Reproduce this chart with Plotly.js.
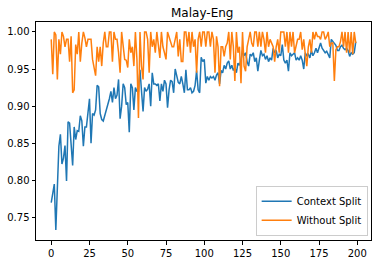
<!DOCTYPE html>
<html><head><meta charset="utf-8">
<script src="https://cdn.plot.ly/plotly-3.0.1.min.js"></script>
<style>html,body{margin:0;padding:0;background:#fff}#chart{width:378px;height:264px}</style>
</head><body><div id="chart"></div>
<script>
const title = "Malay-Eng";
const seriesNames = ["Context Split", "Without Split"];
const contextSplit = [
0.770,0.780,0.795,0.733,0.800,0.846,0.862,0.822,0.830,0.847,
0.799,0.879,0.877,0.850,0.820,0.872,0.855,0.867,0.866,0.887,
0.880,0.846,0.872,0.872,0.890,0.910,0.850,0.890,0.888,0.895,
0.928,0.926,0.890,0.882,0.880,0.887,0.893,0.900,0.910,0.920,
0.905,0.925,0.910,0.915,0.936,0.883,0.900,0.930,0.925,0.902,
0.905,0.865,0.930,0.925,0.895,0.925,0.920,0.920,0.949,0.920,
0.893,0.925,0.920,0.923,0.930,0.900,0.945,0.930,0.930,0.928,
0.930,0.907,0.930,0.920,0.935,0.930,0.898,0.922,0.935,0.933,
0.918,0.950,0.940,0.932,0.930,0.940,0.930,0.918,0.949,0.922,
0.922,0.925,0.918,0.920,0.928,0.948,0.922,0.918,0.966,0.960,
0.963,0.931,0.940,0.935,0.940,0.938,0.940,0.935,0.942,0.945,
0.930,0.948,0.945,0.955,0.950,0.958,0.961,0.950,0.955,0.948,
0.952,0.945,0.958,0.955,0.962,0.975,0.968,0.972,0.960,0.954,
0.970,0.968,0.972,0.960,0.965,0.947,0.962,0.975,0.968,0.970,
0.963,0.968,0.960,0.965,0.962,0.978,0.972,0.975,0.965,0.970,
0.968,0.983,0.962,0.958,0.962,0.947,0.972,0.968,0.970,0.972,
0.962,0.965,0.962,0.968,0.962,0.950,0.972,0.968,0.970,0.965,
0.975,0.968,0.972,0.978,0.972,0.980,0.985,0.978,0.975,0.972,
0.974,0.970,0.965,0.990,0.987,0.985,0.982,0.975,0.975,0.980,
0.982,0.978,0.976,0.978,0.975,0.967,0.972,0.970,0.972,0.987
];
const withoutSplit = [
0.990,0.943,1.000,0.996,0.936,0.990,0.970,1.000,0.994,0.980,
0.990,0.990,0.960,0.994,0.918,0.922,0.983,0.970,1.000,0.960,
0.985,1.000,0.992,0.980,0.990,0.990,0.990,0.963,0.954,0.941,
0.980,0.960,0.980,0.954,0.985,1.000,0.980,0.980,1.000,1.000,
0.960,1.000,0.990,0.990,0.972,0.945,1.000,0.985,0.963,0.962,
0.952,0.990,0.972,0.980,0.954,1.000,0.963,0.884,1.000,0.954,
0.936,1.000,1.000,0.990,0.945,1.000,0.980,0.990,0.972,1.000,
0.985,0.965,1.000,0.980,0.972,0.963,1.000,0.994,0.985,0.980,
0.980,0.990,1.000,0.967,0.990,0.960,0.960,1.000,1.000,0.980,
1.000,0.972,1.000,0.980,0.990,0.945,0.990,1.000,0.980,1.000,
1.000,0.980,1.000,1.000,0.980,1.000,0.990,0.945,0.994,0.980,
0.927,0.980,0.980,0.967,0.980,0.985,1.000,0.963,1.000,0.980,
0.934,1.000,0.972,0.980,0.931,1.000,0.954,0.947,0.980,0.990,
1.000,0.985,0.980,1.000,1.000,0.980,1.000,0.980,1.000,0.990,
0.972,1.000,0.980,0.990,0.985,0.980,0.960,0.980,0.990,0.972,
1.000,1.000,1.000,0.980,1.000,0.972,1.000,0.980,1.000,0.972,
0.980,0.990,0.990,1.000,0.976,0.990,0.970,0.954,0.980,0.990,
0.972,1.000,0.990,1.000,0.994,0.994,0.990,1.000,1.000,0.990,
0.994,1.000,0.980,0.985,0.985,0.934,0.976,0.980,0.980,0.987,
1.000,0.980,1.000,0.972,1.000,0.972,1.000,0.970,1.000,0.985
];
const xs = contextSplit.map((_, i) => i);
const xTicks = [0,25,50,75,100,125,150,175,200];
const yTicks = [0.75,0.80,0.85,0.90,0.95,1.00];

const axisCommon = {
  showgrid:false, zeroline:false, showline:true, mirror:true,
  linecolor:'#000', linewidth:1, ticks:'outside', ticklen:3.5, tickwidth:1,
  tickcolor:'#000', tickfont:{family:'DejaVu Sans', size:10, color:'#000'}
};
const data = [
  {x:xs, y:contextSplit, type:'scatter', mode:'lines', name:seriesNames[0],
   line:{color:'#1f77b4', width:1.5}},
  {x:xs, y:withoutSplit, type:'scatter', mode:'lines', name:seriesNames[1],
   line:{color:'#ff7f0e', width:1.5}}
];
const layout = {
  width:378, height:264,
  margin:{l:36, r:7, t:22, b:24},
  paper_bgcolor:'#fff', plot_bgcolor:'#fff',
  title:{text:title, font:{family:'DejaVu Sans', size:12, color:'#000'},
         x:0.535, xanchor:'center', y:0.95, yanchor:'middle'},
  xaxis:Object.assign({}, axisCommon, {range:[-9.95,208.95], tickvals:xTicks}),
  yaxis:Object.assign({}, axisCommon, {range:[0.7196,1.0134], tickvals:yTicks, tickformat:'.2f'}),
  showlegend:true,
  legend:{x:0.99, xanchor:'right', y:0.02, yanchor:'bottom',
          bgcolor:'rgba(255,255,255,0.8)', bordercolor:'#ccc', borderwidth:1,
          font:{family:'DejaVu Sans', size:10, color:'#000'},
          tracegroupgap:0, itemwidth:30}
};
Plotly.newPlot('chart', data, layout, {staticPlot:true, displayModeBar:false});
</script></body></html>
